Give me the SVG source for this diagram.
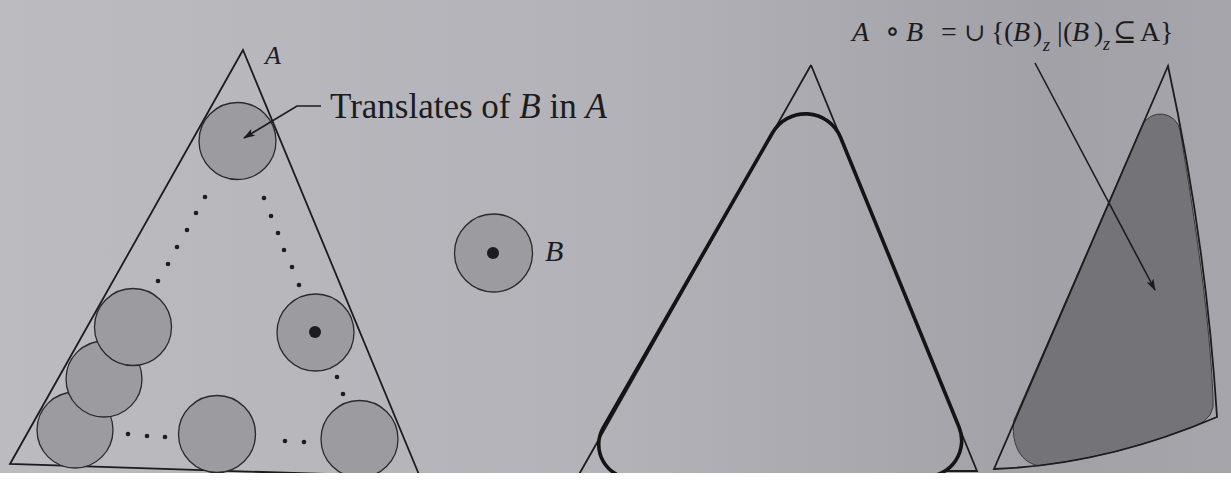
<svg xmlns="http://www.w3.org/2000/svg" width="1231" height="484" viewBox="0 0 1231 484">
<defs>
<linearGradient id="bg" x1="0" y1="0" x2="1" y2="0">
<stop offset="0" stop-color="#bcbbc0"/>
<stop offset="0.5" stop-color="#b3b2b8"/>
<stop offset="0.85" stop-color="#a2a1a7"/>
<stop offset="1" stop-color="#a6a5ab"/>
</linearGradient>
<marker id="ah" viewBox="0 0 12 8" refX="11" refY="4" markerWidth="12" markerHeight="8" markerUnits="userSpaceOnUse" orient="auto">
<path d="M0,0 L12,4 L0,8 L3,4 Z" fill="#1c1c1e"/>
</marker>
<style>
.thin{fill:none;stroke:#1c1c1e;stroke-width:1.8;stroke-linejoin:miter}
.thick{fill:none;stroke:#141416;stroke-width:3.6}
.disk{fill:#9c9ba0;stroke:#2a2a2c;stroke-width:1.3}
.dot{fill:#1c1c1e}
.lbl{font-family:"Liberation Serif","DejaVu Serif","Times New Roman",serif;fill:#1c1c1e}
.it{font-style:italic}
.con{fill:none;stroke:#1c1c1e;stroke-width:1.6}
</style>
</defs>
<rect x="0" y="0" width="1231" height="484" fill="url(#bg)"/>

<g id="triangleA">
<path class="thin" d="M243,50 L10,464 L420,477 Z"/>
<text class="lbl it" x="265" y="64" font-size="26">A</text>
</g>

<g id="translates">
<circle class="disk" cx="75" cy="430" r="38"/>
<circle class="disk" cx="104" cy="379" r="38"/>
<circle class="disk" cx="133" cy="327" r="38.5"/>
<circle class="disk" cx="237.5" cy="141" r="38.5"/>
<circle class="disk" cx="217" cy="434" r="38.5"/>
<circle class="disk" cx="315.5" cy="332.5" r="38.5"/>
<circle class="dot" cx="315" cy="332" r="6"/>
<circle class="disk" cx="359.5" cy="439" r="38.5"/>
<g id="dots">
<circle class="dot" cx="205" cy="197" r="2.3"/>
<circle class="dot" cx="196" cy="213" r="2.3"/>
<circle class="dot" cx="187" cy="230" r="2.3"/>
<circle class="dot" cx="177" cy="247" r="2.3"/>
<circle class="dot" cx="168" cy="264" r="2.3"/>
<circle class="dot" cx="158" cy="281" r="2.3"/>
<circle class="dot" cx="264" cy="198" r="2.3"/>
<circle class="dot" cx="271" cy="216" r="2.3"/>
<circle class="dot" cx="278" cy="233" r="2.3"/>
<circle class="dot" cx="284" cy="250" r="2.3"/>
<circle class="dot" cx="292" cy="267" r="2.3"/>
<circle class="dot" cx="299" cy="285" r="2.3"/>
<circle class="dot" cx="337" cy="377" r="2.3"/>
<circle class="dot" cx="343" cy="394" r="2.3"/>
<circle class="dot" cx="128" cy="434" r="2.3"/>
<circle class="dot" cx="147" cy="436" r="2.3"/>
<circle class="dot" cx="165" cy="437" r="2.3"/>
<circle class="dot" cx="285" cy="441" r="2.3"/>
<circle class="dot" cx="304" cy="442" r="2.3"/>
</g>
</g>

<g id="label-translates">
<text class="lbl" x="330" y="118" font-size="35">Translates of <tspan class="it">B</tspan> in <tspan class="it">A</tspan></text>
</g>

<g id="structB">
<circle class="disk" cx="493.5" cy="253" r="39"/>
<circle class="dot" cx="493" cy="253" r="6"/>
<text class="lbl it" x="545" y="261" font-size="30">B</text>
</g>

<g id="opening">
<path class="thin" d="M811,65 L577,478 M811,65 L977,471 L943,471"/>
<path class="thick" d="M772.4,133 A38,38 0 0 1 840.6,137.5 L959,427 A36,36 0 0 1 925.7,476.6 L632,478.5 A34,34 0 0 1 603,428 Z"/>
</g>

<g id="result">
<path d="M1142,126 A20,20 0 0 1 1180,130.3 C1195,220 1210,320 1213,398 Q1216,418 1195,426 Q1116,457 1038.5,465.7 C1018,462 1011,440 1014,420 Z" fill="#747378" stroke="#3a3a3c" stroke-width="1"/>
<path class="thin" d="M1168,66 L994,469 Q1105,465 1217,417 Q1206,241 1168,66 Z"/>
<text class="lbl" y="41" font-size="28"><tspan x="852" class="it">A</tspan><tspan x="885" font-size="30">∘</tspan><tspan x="906" class="it">B</tspan><tspan x="941">=</tspan><tspan x="964" font-size="25">∪</tspan><tspan x="991">{</tspan><tspan x="1004">(</tspan><tspan x="1013" class="it">B</tspan><tspan x="1033">)</tspan><tspan x="1043" dy="10" font-size="18" class="it">z</tspan><tspan x="1057" dy="-10">|</tspan><tspan x="1063">(</tspan><tspan x="1072" class="it">B</tspan><tspan x="1094">)</tspan><tspan x="1103" dy="9" font-size="18" class="it">z</tspan><tspan x="1113" dy="-9">⊆</tspan><tspan x="1140">A</tspan><tspan x="1160">}</tspan></text>
</g>

<g id="connectors">
<path class="con" d="M321,106 L297,106 L244,138" marker-end="url(#ah)"/>
<path class="con" d="M1035,63 L1155,290" marker-end="url(#ah)"/>
</g>

<rect x="0" y="473" width="1231" height="11" fill="#ffffff"/>
</svg>
